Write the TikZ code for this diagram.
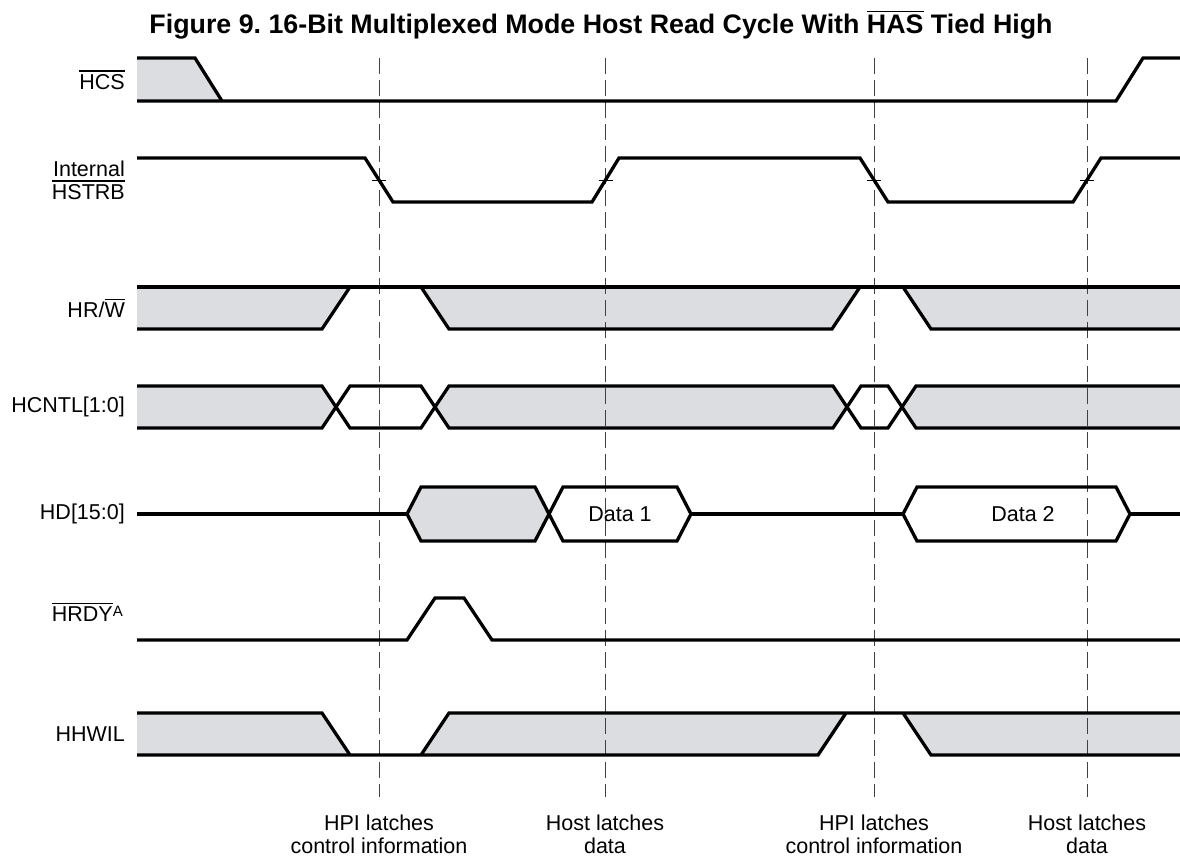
\documentclass[tikz,border=0pt]{standalone}
\usepackage{fontspec}
\setmainfont{Liberation Sans}
\frenchspacing
\definecolor{busgray}{RGB}{220,221,224}
\newcommand\ovl[1]{\leavevmode\vbox{\hrule height 1.4pt\kern 2.6pt\hbox{#1}}}
\begin{document}
\begin{tikzpicture}[x=1pt,y=-1pt,
  sig/.style={line width=3.3pt, line join=miter},
  busfill/.style={fill=busgray, draw=none},
  vmark/.style={line width=1pt, draw=black!75, dash pattern=on 16pt off 6pt},
  tickmark/.style={line width=0.9pt},
  lbl/.style={anchor=east, align=right, font=\fontsize{21.5}{23}\selectfont, inner sep=0pt},
  note/.style={align=center, font=\fontsize{21.5}{23}\selectfont, inner sep=0pt},
  datatxt/.style={font=\fontsize{21.5}{23}\selectfont, inner sep=0pt}
]
\useasboundingbox (0,0) rectangle (1180,859);

% title
\node[font=\fontsize{26.8}{30}\selectfont\bfseries, inner sep=0pt] (title) at (601,25)
  {Figure 9. 16-Bit Multiplexed Mode Host Read Cycle With \ovl{HAS} Tied High};

% signal labels
\node[lbl] (lhcs) at (125,80) {\ovl{HCS}};
\node[lbl] (lhstrb) at (125,180) {Internal\\\ovl{HSTRB}};
\node[lbl] (lhrw) at (125,308) {HR/\ovl{W}};
\node[lbl] (lhcntl) at (125,407) {HCNTL[1:0]};
\node[lbl] (lhd) at (125,514) {HD[15:0]};
\node[lbl] (lhrdy) at (123,612) {\ovl{HRDY}\raisebox{5pt}{\fontsize{15}{15}\selectfont A}};
\node[lbl] (lhhwil) at (125,734) {HHWIL};

% ---- fills ----
% HCS
\fill[busgray] (137,58) -- (195,58) -- (222,101) -- (137,101) -- cycle;
% HR/W
\fill[busgray] (137,287) -- (350,287) -- (322,329) -- (137,329) -- cycle;
\fill[busgray] (421,287) -- (860,287) -- (832,329) -- (449,329) -- cycle;
\fill[busgray] (903,287) -- (1180,287) -- (1180,329) -- (931,329) -- cycle;
% HCNTL
\fill[busgray] (137,386) -- (322,386) -- (336,407) -- (322,428) -- (137,428) -- cycle;
\fill[busgray] (435,407) -- (449,386) -- (833,386) -- (847,407) -- (833,428) -- (449,428) -- cycle;
\fill[busgray] (902,407) -- (916,386) -- (1180,386) -- (1180,428) -- (916,428) -- cycle;
% HD
\fill[busgray] (407,514) -- (421,487) -- (535,487) -- (549,514) -- (535,541) -- (421,541) -- cycle;
% HHWIL
\fill[busgray] (137,713) -- (322,713) -- (350,755) -- (137,755) -- cycle;
\fill[busgray] (449,713) -- (846,713) -- (818,755) -- (421,755) -- cycle;
\fill[busgray] (903,713) -- (1180,713) -- (1180,755) -- (931,755) -- cycle;

% ---- dashed markers ----
\foreach \n/\x in {1/379, 2/605, 3/874, 4/1087} {
  \coordinate (m\n top) at (\x,58);
  \coordinate (m\n bot) at (\x,797);
  \draw[vmark] (m\n top) -- (m\n bot);
}

% ---- signals ----
% HCS
\draw[sig] (137,58) -- (195,58) -- (222,101);
\draw[sig] (137,101) -- (1116,101) -- (1143,58) -- (1180,58);
% HSTRB
\draw[sig] (137,158) -- (365,158) -- (393,202) -- (592,202) -- (619,158) -- (860,158)
  -- (888,202) -- (1073,202) -- (1101,158) -- (1180,158);
\foreach \x in {379,605.5,874,1087}
  \draw[tickmark] (\x-7,180) -- (\x+7,180);
% HR/W
\draw[sig] (137,287) -- (1180,287);
\draw[sig] (137,329) -- (322,329) -- (350,287);
\draw[sig] (421,287) -- (449,329) -- (832,329) -- (860,287);
\draw[sig] (903,287) -- (931,329) -- (1180,329);
% HCNTL
\draw[sig] (137,386) -- (322,386) -- (350,428) -- (421,428) -- (449,386) -- (833,386)
  -- (861,428) -- (888,428) -- (916,386) -- (1180,386);
\draw[sig] (137,428) -- (322,428) -- (350,386) -- (421,386) -- (449,428) -- (833,428)
  -- (861,386) -- (888,386) -- (916,428) -- (1180,428);
% HD
\draw[sig] (137,514) -- (407,514);
\draw[sig] (407,514) -- (421,487) -- (535,487) -- (549,514) -- (535,541) -- (421,541) -- cycle;
\draw[sig] (549,514) -- (563,487) -- (677,487) -- (691,514) -- (677,541) -- (563,541) -- cycle;
\draw[sig] (691,514) -- (903,514);
\draw[sig] (903,514) -- (917,487) -- (1116,487) -- (1130,514) -- (1116,541) -- (917,541) -- cycle;
\draw[sig] (1130,514) -- (1180,514);
\node[datatxt] (d1) at (620,514) {Data 1};
\node[datatxt] (d2) at (1023,514) {Data 2};
% HRDY
\draw[sig] (137,640) -- (407,640) -- (435,598) -- (464,598) -- (492,640) -- (1180,640);
% HHWIL
\draw[sig] (137,713) -- (322,713) -- (350,755);
\draw[sig] (137,755) -- (818,755) -- (846,713);
\draw[sig] (421,755) -- (449,713) -- (1180,713);
\draw[sig] (903,713) -- (931,755) -- (1180,755);

% ---- bottom notes ----
\node[note] (n1) at (379,834) {HPI latches\\control information};
\node[note] (n2) at (605,834) {Host latches\\data};
\node[note] (n3) at (874,834) {HPI latches\\control information};
\node[note] (n4) at (1087,834) {Host latches\\data};
\end{tikzpicture}
\end{document}
